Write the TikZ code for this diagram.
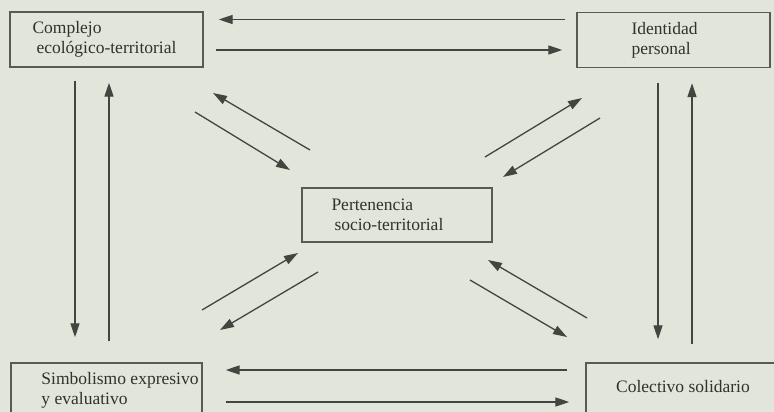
\documentclass[tikz,border=0pt]{standalone}
\usepackage{fontspec}
\setmainfont{Liberation Serif}
\usetikzlibrary{arrows.meta}

\definecolor{paper}{RGB}{226,229,217}
\definecolor{ink}{RGB}{66,70,64}
\definecolor{boxink}{RGB}{88,90,84}
\definecolor{textink}{RGB}{50,50,45}

\tikzset{
  box/.style={draw=boxink, line width=1.4pt, minimum width=193pt, minimum height=55pt, inner sep=0pt},
  boxtext/.style={anchor=west, align=left, inner sep=0pt, text=textink, font=\fontsize{17.5}{20}\selectfont},
  arr/.style={draw=ink, line width=1.3pt, -{Triangle[length=14pt,width=9pt]}}
}

\begin{document}
\begin{tikzpicture}[x=1pt,y=-1pt]
\useasboundingbox (0,0) rectangle (774,412);
\fill [paper] (0,0) rectangle (774,412);
\clip (0,0) rectangle (774,412);

% the five boxes
\node [box, label={[boxtext, xshift=23pt]west:{Complejo\\\hspace{4pt}ecológico-territorial}}] (cmp) at (106.5,39.5) {};
\node [box, label={[boxtext, xshift=55pt]west:{Identidad\\personal}}] (idp) at (673.5,40) {};
\node [box, minimum width=190pt, minimum height=54pt, label={[boxtext, xshift=30pt]west:{Pertenencia\\\hspace{3pt}socio-territorial}}] (pert) at (397,215) {};
\node [box, minimum width=191pt, label={[boxtext, xshift=31pt]west:{Simbolismo expresivo\\y evaluativo}}] (sim) at (106.5,390.5) {};
\node [box, minimum width=194pt, font=\fontsize{17.5}{20}\selectfont, text=textink] (col) at (683,390.5) {\raisebox{8pt}{Colectivo solidario}};

% horizontal pairs
\draw [arr, shorten <=11pt, shorten >=15pt] ([yshift=20.5pt]idp.west) -- ([yshift=20.5pt]idp.west -| cmp.east);
\draw [arr, shorten <=12pt, shorten >=14pt] ([yshift=-10.5pt]cmp.east) -- ([yshift=-10.5pt]cmp.east -| idp.west);
\draw [arr, shorten <=18pt, shorten >=23pt] ([yshift=20.5pt]col.west) -- ([yshift=20.5pt]col.west -| sim.east);
\draw [arr, shorten <=23pt, shorten >=16pt] ([yshift=-11.5pt]sim.east) -- ([yshift=-11.5pt]sim.east -| col.west);

% vertical pairs
\draw [arr, shorten <=13pt, shorten >=25pt] ([xshift=-31.5pt]cmp.south) -- ([xshift=-31.5pt]cmp.south |- sim.north);
\draw [arr, shorten <=21pt, shorten >=15pt] ([xshift=2.5pt]sim.north) -- ([xshift=2.5pt]sim.north |- cmp.south);
\draw [arr, shorten <=15pt, shorten >=23pt] ([xshift=-15.5pt]idp.south) -- ([xshift=-15.5pt]idp.south |- col.north);
\draw [arr, shorten <=18pt, shorten >=15pt] ([xshift=18.5pt]idp.south |- col.north) -- ([xshift=18.5pt]idp.south);

% diagonal pairs towards the centre box
\coordinate (tlA) at (310,150); \coordinate (tlB) at (213,93);
\coordinate (tlC) at (195,112); \coordinate (tlD) at (290,170);
\coordinate (trA) at (485,157); \coordinate (trB) at (582,98);
\coordinate (trC) at (600,118); \coordinate (trD) at (503,177);
\coordinate (blA) at (202,310); \coordinate (blB) at (298,253);
\coordinate (blC) at (318,272); \coordinate (blD) at (220,330);
\coordinate (brA) at (587,318); \coordinate (brB) at (488,260);
\coordinate (brC) at (470,280); \coordinate (brD) at (567,337);

\draw [arr] (tlA) -- (tlB);
\draw [arr] (tlC) -- (tlD);
\draw [arr] (trA) -- (trB);
\draw [arr] (trC) -- (trD);
\draw [arr] (blA) -- (blB);
\draw [arr] (blC) -- (blD);
\draw [arr] (brA) -- (brB);
\draw [arr] (brC) -- (brD);
\end{tikzpicture}
\end{document}
